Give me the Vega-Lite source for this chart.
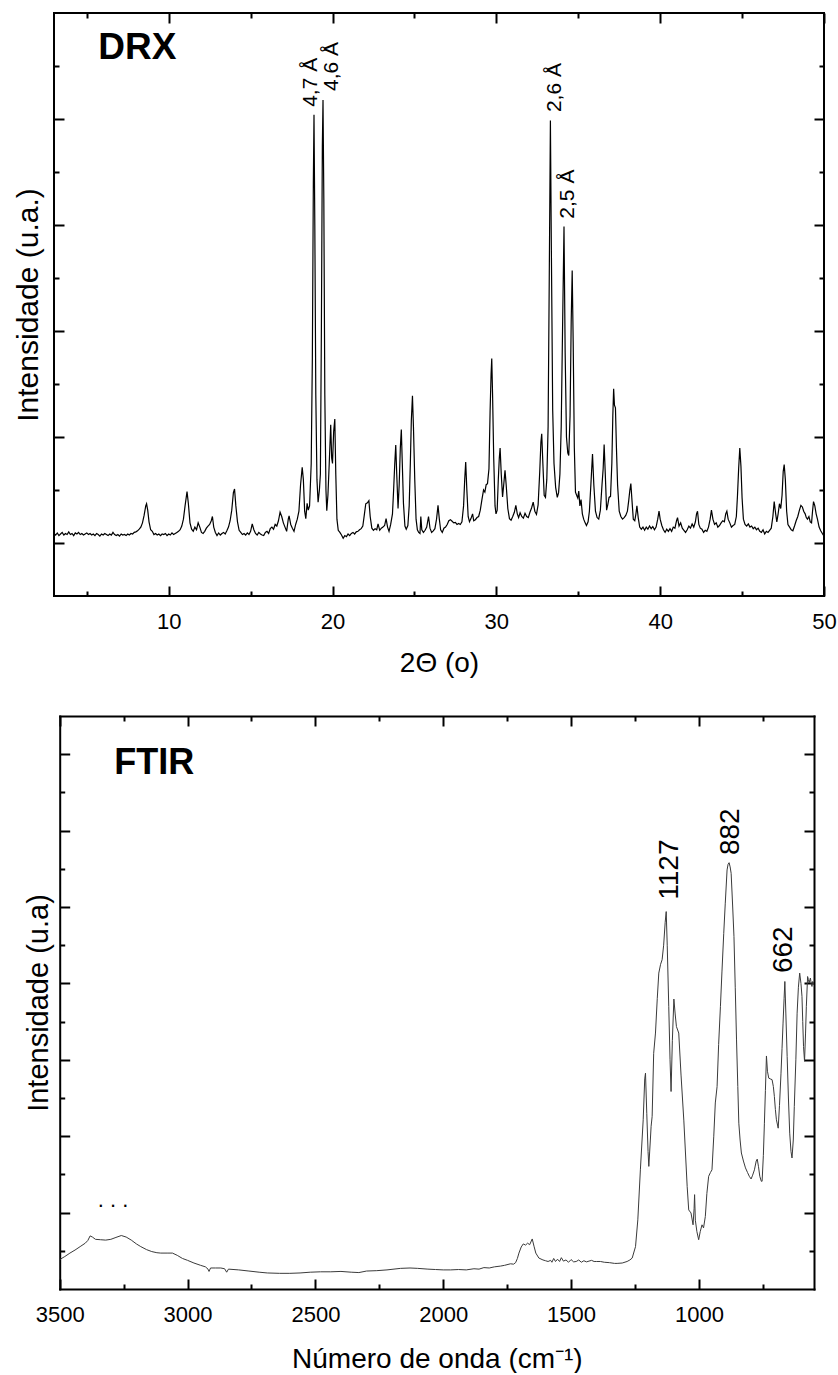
{
"$schema":"https://vega.github.io/schema/vega-lite/v6.json",
"padding":{"left":12,"top":11,"right":0,"bottom":0},
"spacing":37,
"config":{"view":{"stroke":"black","strokeWidth":2},"font":"Liberation Sans","axis":{"domain":false,"grid":false,"tickColor":"black","tickWidth":2,"labelColor":"black","titleColor":"black","labelFont":"Liberation Sans","titleFont":"Liberation Sans","titleFontWeight":"normal","labelOverlap":false,"labelFlush":false,"domainColor":"black","domainWidth":2,"domainCap":"square"}},
"vconcat":[
{
"width":770,"height":583,
"resolve":{"axis":{"x":"independent","y":"independent"}},
"layer":[
{
"data":{"values":[
{"x":3.0,"y":0.18},{"x":3.1,"y":0.15},{"x":3.2,"y":0.19},{"x":3.3,"y":0.14},{"x":3.4,"y":0.17},{"x":3.5,"y":0.2},{"x":3.6,"y":0.15},{"x":3.7,"y":0.18},{"x":3.8,"y":0.16},{"x":3.9,"y":0.21},
{"x":4.0,"y":0.16},{"x":4.1,"y":0.18},{"x":4.2,"y":0.14},{"x":4.3,"y":0.19},{"x":4.4,"y":0.17},{"x":4.5,"y":0.2},{"x":4.6,"y":0.16},{"x":4.7,"y":0.18},{"x":4.8,"y":0.15},{"x":4.9,"y":0.17},
{"x":5.0,"y":0.19},{"x":5.1,"y":0.16},{"x":5.2,"y":0.18},{"x":5.3,"y":0.15},{"x":5.4,"y":0.17},{"x":5.5,"y":0.14},{"x":5.6,"y":0.18},{"x":5.7,"y":0.16},{"x":5.8,"y":0.13},{"x":5.9,"y":0.17},
{"x":6.0,"y":0.15},{"x":6.1,"y":0.18},{"x":6.2,"y":0.16},{"x":6.3,"y":0.14},{"x":6.4,"y":0.17},{"x":6.5,"y":0.15},{"x":6.6,"y":0.2},{"x":6.7,"y":0.16},{"x":6.8,"y":0.14},{"x":6.9,"y":0.16},
{"x":7.0,"y":0.13},{"x":7.1,"y":0.17},{"x":7.2,"y":0.15},{"x":7.3,"y":0.16},{"x":7.4,"y":0.14},{"x":7.5,"y":0.17},{"x":7.6,"y":0.15},{"x":7.7,"y":0.18},{"x":7.8,"y":0.17},{"x":7.9,"y":0.2},
{"x":8.0,"y":0.21},{"x":8.1,"y":0.23},{"x":8.2,"y":0.26},{"x":8.3,"y":0.3},{"x":8.4,"y":0.38},{"x":8.5,"y":0.52},{"x":8.6,"y":0.7},{"x":8.65,"y":0.74},{"x":8.72,"y":0.62},{"x":8.8,"y":0.4},
{"x":8.9,"y":0.25},{"x":9.0,"y":0.22},{"x":9.1,"y":0.16},{"x":9.2,"y":0.18},{"x":9.3,"y":0.15},{"x":9.4,"y":0.17},{"x":9.5,"y":0.14},{"x":9.6,"y":0.17},{"x":9.7,"y":0.16},{"x":9.8,"y":0.18},
{"x":9.9,"y":0.14},{"x":10.0,"y":0.17},{"x":10.1,"y":0.15},{"x":10.2,"y":0.19},{"x":10.3,"y":0.16},{"x":10.4,"y":0.18},{"x":10.5,"y":0.2},{"x":10.6,"y":0.22},{"x":10.7,"y":0.25},{"x":10.8,"y":0.32},
{"x":10.9,"y":0.45},{"x":11.0,"y":0.7},{"x":11.12,"y":0.97},{"x":11.2,"y":0.75},{"x":11.3,"y":0.38},{"x":11.4,"y":0.26},{"x":11.5,"y":0.22},{"x":11.6,"y":0.3},{"x":11.7,"y":0.25},{"x":11.8,"y":0.38},
{"x":11.9,"y":0.3},{"x":12.0,"y":0.2},{"x":12.1,"y":0.18},{"x":12.2,"y":0.22},{"x":12.3,"y":0.28},{"x":12.4,"y":0.32},{"x":12.5,"y":0.35},{"x":12.6,"y":0.42},{"x":12.67,"y":0.5},{"x":12.75,"y":0.3},
{"x":12.85,"y":0.2},{"x":12.95,"y":0.14},{"x":13.05,"y":0.19},{"x":13.15,"y":0.15},{"x":13.25,"y":0.18},{"x":13.35,"y":0.2},{"x":13.45,"y":0.17},{"x":13.55,"y":0.23},{"x":13.65,"y":0.3},{"x":13.75,"y":0.42},
{"x":13.85,"y":0.62},{"x":13.95,"y":0.95},{"x":14.02,"y":1.02},{"x":14.1,"y":0.7},{"x":14.2,"y":0.4},{"x":14.3,"y":0.24},{"x":14.4,"y":0.2},{"x":14.5,"y":0.16},{"x":14.6,"y":0.18},{"x":14.7,"y":0.15},
{"x":14.8,"y":0.19},{"x":14.9,"y":0.16},{"x":15.0,"y":0.22},{"x":15.1,"y":0.36},{"x":15.2,"y":0.25},{"x":15.3,"y":0.18},{"x":15.4,"y":0.15},{"x":15.5,"y":0.2},{"x":15.6,"y":0.17},{"x":15.7,"y":0.15},
{"x":15.8,"y":0.14},{"x":15.9,"y":0.2},{"x":16.0,"y":0.22},{"x":16.1,"y":0.18},{"x":16.2,"y":0.27},{"x":16.3,"y":0.3},{"x":16.4,"y":0.26},{"x":16.5,"y":0.35},{"x":16.6,"y":0.32},{"x":16.7,"y":0.42},
{"x":16.8,"y":0.58},{"x":16.9,"y":0.5},{"x":17.0,"y":0.38},{"x":17.1,"y":0.3},{"x":17.2,"y":0.22},{"x":17.3,"y":0.45},{"x":17.35,"y":0.51},{"x":17.45,"y":0.35},{"x":17.55,"y":0.28},{"x":17.65,"y":0.22},
{"x":17.75,"y":0.35},{"x":17.85,"y":0.45},{"x":17.95,"y":0.6},{"x":18.05,"y":1.1},{"x":18.15,"y":1.43},{"x":18.22,"y":1.2},{"x":18.3,"y":0.6},{"x":18.37,"y":0.46},{"x":18.45,"y":0.75},{"x":18.52,"y":0.62},
{"x":18.6,"y":0.7},{"x":18.7,"y":1.5},{"x":18.77,"y":3.5},{"x":18.83,"y":6.8},{"x":18.87,"y":8.08},{"x":18.92,"y":6.0},{"x":18.98,"y":2.8},{"x":19.05,"y":1.2},{"x":19.12,"y":0.77},{"x":19.2,"y":1.0},
{"x":19.26,"y":1.3},{"x":19.32,"y":4.0},{"x":19.38,"y":7.5},{"x":19.42,"y":8.36},{"x":19.47,"y":6.5},{"x":19.53,"y":2.8},{"x":19.6,"y":1.0},{"x":19.65,"y":0.61},{"x":19.72,"y":0.9},{"x":19.8,"y":1.5},
{"x":19.89,"y":2.23},{"x":19.95,"y":1.6},{"x":20.0,"y":1.5},{"x":20.07,"y":2.1},{"x":20.14,"y":2.34},{"x":20.2,"y":1.3},{"x":20.27,"y":0.45},{"x":20.35,"y":0.24},{"x":20.45,"y":0.2},{"x":20.55,"y":0.15},
{"x":20.65,"y":0.09},{"x":20.75,"y":0.14},{"x":20.85,"y":0.12},{"x":20.95,"y":0.17},{"x":21.05,"y":0.14},{"x":21.15,"y":0.18},{"x":21.25,"y":0.2},{"x":21.35,"y":0.17},{"x":21.45,"y":0.21},{"x":21.55,"y":0.22},
{"x":21.65,"y":0.25},{"x":21.75,"y":0.27},{"x":21.85,"y":0.32},{"x":21.95,"y":0.55},{"x":22.03,"y":0.74},{"x":22.13,"y":0.76},{"x":22.22,"y":0.8},{"x":22.3,"y":0.5},{"x":22.4,"y":0.28},{"x":22.5,"y":0.24},
{"x":22.6,"y":0.27},{"x":22.7,"y":0.25},{"x":22.78,"y":0.36},{"x":22.88,"y":0.24},{"x":22.98,"y":0.28},{"x":23.08,"y":0.3},{"x":23.18,"y":0.33},{"x":23.27,"y":0.46},{"x":23.36,"y":0.3},{"x":23.45,"y":0.22},
{"x":23.55,"y":0.35},{"x":23.66,"y":0.55},{"x":23.73,"y":1.0},{"x":23.8,"y":1.5},{"x":23.86,"y":1.85},{"x":23.92,"y":1.3},{"x":24.0,"y":0.65},{"x":24.07,"y":1.1},{"x":24.14,"y":1.8},{"x":24.2,"y":2.14},
{"x":24.26,"y":1.5},{"x":24.33,"y":0.75},{"x":24.42,"y":0.32},{"x":24.5,"y":0.26},{"x":24.6,"y":0.33},{"x":24.68,"y":0.7},{"x":24.75,"y":1.5},{"x":24.81,"y":2.3},{"x":24.88,"y":2.78},{"x":24.94,"y":2.2},
{"x":25.02,"y":1.2},{"x":25.1,"y":0.45},{"x":25.18,"y":0.25},{"x":25.26,"y":0.2},{"x":25.34,"y":0.18},{"x":25.39,"y":0.5},{"x":25.45,"y":0.25},{"x":25.55,"y":0.2},{"x":25.65,"y":0.24},{"x":25.75,"y":0.3},
{"x":25.86,"y":0.5},{"x":25.95,"y":0.28},{"x":26.05,"y":0.2},{"x":26.15,"y":0.23},{"x":26.25,"y":0.27},{"x":26.35,"y":0.45},{"x":26.44,"y":0.71},{"x":26.52,"y":0.45},{"x":26.6,"y":0.25},{"x":26.7,"y":0.2},
{"x":26.8,"y":0.28},{"x":26.9,"y":0.3},{"x":27.0,"y":0.35},{"x":27.1,"y":0.42},{"x":27.2,"y":0.44},{"x":27.3,"y":0.41},{"x":27.4,"y":0.38},{"x":27.5,"y":0.39},{"x":27.6,"y":0.35},{"x":27.7,"y":0.37},
{"x":27.8,"y":0.35},{"x":27.9,"y":0.4},{"x":28.0,"y":0.7},{"x":28.07,"y":1.2},{"x":28.13,"y":1.53},{"x":28.2,"y":1.0},{"x":28.28,"y":0.5},{"x":28.36,"y":0.4},{"x":28.45,"y":0.46},{"x":28.55,"y":0.55},
{"x":28.62,"y":0.42},{"x":28.72,"y":0.44},{"x":28.82,"y":0.48},{"x":28.92,"y":0.5},{"x":29.02,"y":0.62},{"x":29.12,"y":0.82},{"x":29.22,"y":1.0},{"x":29.3,"y":0.96},{"x":29.38,"y":1.1},{"x":29.46,"y":1.12},
{"x":29.55,"y":1.4},{"x":29.62,"y":2.5},{"x":29.68,"y":3.2},{"x":29.72,"y":3.48},{"x":29.77,"y":2.8},{"x":29.84,"y":1.6},{"x":29.92,"y":0.7},{"x":29.98,"y":0.55},{"x":30.05,"y":0.62},{"x":30.12,"y":1.2},
{"x":30.18,"y":1.6},{"x":30.23,"y":1.79},{"x":30.3,"y":1.3},{"x":30.38,"y":0.87},{"x":30.45,"y":1.1},{"x":30.53,"y":1.37},{"x":30.6,"y":1.1},{"x":30.7,"y":0.65},{"x":30.8,"y":0.46},{"x":30.9,"y":0.43},
{"x":31.0,"y":0.5},{"x":31.1,"y":0.58},{"x":31.19,"y":0.71},{"x":31.28,"y":0.55},{"x":31.36,"y":0.48},{"x":31.45,"y":0.57},{"x":31.55,"y":0.5},{"x":31.65,"y":0.47},{"x":31.75,"y":0.56},{"x":31.85,"y":0.5},
{"x":31.95,"y":0.48},{"x":32.05,"y":0.58},{"x":32.15,"y":0.66},{"x":32.25,"y":0.77},{"x":32.35,"y":0.6},{"x":32.45,"y":0.54},{"x":32.55,"y":0.72},{"x":32.65,"y":1.35},{"x":32.72,"y":1.9},{"x":32.77,"y":2.06},
{"x":32.84,"y":1.5},{"x":32.92,"y":0.9},{"x":33.0,"y":0.86},{"x":33.08,"y":1.2},{"x":33.16,"y":2.2},{"x":33.23,"y":5.0},{"x":33.3,"y":7.97},{"x":33.36,"y":5.5},{"x":33.44,"y":2.5},{"x":33.52,"y":1.5},
{"x":33.62,"y":1.05},{"x":33.72,"y":0.86},{"x":33.8,"y":0.95},{"x":33.88,"y":1.3},{"x":33.96,"y":2.2},{"x":34.04,"y":4.0},{"x":34.13,"y":5.97},{"x":34.2,"y":3.6},{"x":34.28,"y":2.0},{"x":34.36,"y":1.7},
{"x":34.42,"y":1.65},{"x":34.5,"y":2.4},{"x":34.57,"y":4.2},{"x":34.63,"y":5.14},{"x":34.69,"y":3.8},{"x":34.76,"y":1.8},{"x":34.83,"y":0.96},{"x":34.9,"y":0.9},{"x":34.97,"y":0.85},{"x":35.03,"y":0.98},
{"x":35.1,"y":0.7},{"x":35.17,"y":0.82},{"x":35.25,"y":0.55},{"x":35.33,"y":0.45},{"x":35.42,"y":0.38},{"x":35.5,"y":0.33},{"x":35.6,"y":0.4},{"x":35.68,"y":0.6},{"x":35.77,"y":1.1},{"x":35.87,"y":1.68},
{"x":35.95,"y":1.1},{"x":36.05,"y":0.6},{"x":36.15,"y":0.48},{"x":36.25,"y":0.45},{"x":36.35,"y":0.62},{"x":36.45,"y":1.1},{"x":36.52,"y":1.4},{"x":36.58,"y":1.86},{"x":36.65,"y":1.3},{"x":36.73,"y":0.62},
{"x":36.8,"y":0.72},{"x":36.88,"y":0.86},{"x":36.97,"y":0.88},{"x":37.05,"y":1.5},{"x":37.11,"y":2.4},{"x":37.16,"y":2.91},{"x":37.21,"y":2.6},{"x":37.27,"y":2.55},{"x":37.33,"y":1.8},{"x":37.4,"y":1.1},
{"x":37.5,"y":0.6},{"x":37.6,"y":0.5},{"x":37.7,"y":0.45},{"x":37.8,"y":0.48},{"x":37.9,"y":0.52},{"x":38.0,"y":0.6},{"x":38.08,"y":0.8},{"x":38.15,"y":1.0},{"x":38.21,"y":1.12},{"x":38.28,"y":0.8},
{"x":38.36,"y":0.45},{"x":38.45,"y":0.42},{"x":38.52,"y":0.55},{"x":38.58,"y":0.7},{"x":38.66,"y":0.48},{"x":38.75,"y":0.3},{"x":38.85,"y":0.26},{"x":38.95,"y":0.3},{"x":39.05,"y":0.24},{"x":39.15,"y":0.3},
{"x":39.25,"y":0.26},{"x":39.35,"y":0.32},{"x":39.45,"y":0.27},{"x":39.55,"y":0.31},{"x":39.65,"y":0.25},{"x":39.75,"y":0.3},{"x":39.85,"y":0.45},{"x":39.93,"y":0.6},{"x":40.0,"y":0.45},{"x":40.1,"y":0.33},
{"x":40.2,"y":0.25},{"x":40.3,"y":0.2},{"x":40.4,"y":0.26},{"x":40.5,"y":0.22},{"x":40.6,"y":0.27},{"x":40.7,"y":0.22},{"x":40.8,"y":0.3},{"x":40.9,"y":0.28},{"x":41.0,"y":0.42},{"x":41.06,"y":0.48},
{"x":41.15,"y":0.32},{"x":41.25,"y":0.38},{"x":41.35,"y":0.28},{"x":41.45,"y":0.24},{"x":41.55,"y":0.2},{"x":41.65,"y":0.25},{"x":41.75,"y":0.32},{"x":41.85,"y":0.28},{"x":41.95,"y":0.36},{"x":42.05,"y":0.3},
{"x":42.15,"y":0.4},{"x":42.22,"y":0.55},{"x":42.28,"y":0.6},{"x":42.36,"y":0.35},{"x":42.45,"y":0.28},{"x":42.55,"y":0.26},{"x":42.65,"y":0.2},{"x":42.75,"y":0.24},{"x":42.85,"y":0.22},{"x":42.95,"y":0.3},
{"x":43.05,"y":0.45},{"x":43.13,"y":0.62},{"x":43.22,"y":0.45},{"x":43.32,"y":0.35},{"x":43.42,"y":0.38},{"x":43.52,"y":0.3},{"x":43.62,"y":0.33},{"x":43.72,"y":0.38},{"x":43.82,"y":0.42},{"x":43.92,"y":0.4},
{"x":44.0,"y":0.55},{"x":44.07,"y":0.6},{"x":44.15,"y":0.45},{"x":44.25,"y":0.38},{"x":44.35,"y":0.3},{"x":44.45,"y":0.33},{"x":44.55,"y":0.35},{"x":44.65,"y":0.5},{"x":44.72,"y":0.9},{"x":44.79,"y":1.4},
{"x":44.86,"y":1.79},{"x":44.93,"y":1.45},{"x":45.0,"y":0.85},{"x":45.08,"y":0.45},{"x":45.18,"y":0.35},{"x":45.28,"y":0.32},{"x":45.38,"y":0.36},{"x":45.48,"y":0.3},{"x":45.58,"y":0.32},{"x":45.68,"y":0.27},
{"x":45.78,"y":0.3},{"x":45.88,"y":0.25},{"x":45.98,"y":0.28},{"x":46.08,"y":0.22},{"x":46.18,"y":0.2},{"x":46.28,"y":0.25},{"x":46.38,"y":0.17},{"x":46.48,"y":0.22},{"x":46.58,"y":0.2},{"x":46.68,"y":0.24},
{"x":46.78,"y":0.28},{"x":46.88,"y":0.5},{"x":46.96,"y":0.78},{"x":47.05,"y":0.55},{"x":47.12,"y":0.4},{"x":47.2,"y":0.55},{"x":47.28,"y":0.74},{"x":47.36,"y":0.65},{"x":47.44,"y":0.9},{"x":47.51,"y":1.35},
{"x":47.57,"y":1.48},{"x":47.64,"y":1.2},{"x":47.72,"y":0.6},{"x":47.8,"y":0.35},{"x":47.9,"y":0.3},{"x":48.0,"y":0.25},{"x":48.1,"y":0.23},{"x":48.2,"y":0.32},{"x":48.3,"y":0.42},{"x":48.4,"y":0.5},
{"x":48.5,"y":0.62},{"x":48.59,"y":0.71},{"x":48.68,"y":0.68},{"x":48.76,"y":0.6},{"x":48.85,"y":0.55},{"x":48.92,"y":0.48},{"x":48.99,"y":0.45},{"x":49.08,"y":0.5},{"x":49.16,"y":0.4},{"x":49.24,"y":0.38},
{"x":49.3,"y":0.6},{"x":49.36,"y":0.78},{"x":49.44,"y":0.7},{"x":49.52,"y":0.55},{"x":49.6,"y":0.45},{"x":49.7,"y":0.3},{"x":49.8,"y":0.23},{"x":49.9,"y":0.18},{"x":50.0,"y":0.13}
]},
"mark":{"type":"line","color":"black","strokeWidth":1.2,"clip":true},
"encoding":{
"x":{"field":"x","type":"quantitative","scale":{"domain":[3,50],"nice":false,"zero":false},
"axis":{"orient":"bottom","values":[5,10,15,20,25,30,35,40,45,50],"tickSize":{"condition":{"test":"datum.value % 10 === 0","value":-10},"value":-5},"labelExpr":"datum.value % 10 === 0 ? datum.label : ''","labelFontSize":22,"labelPadding":25,"title":"2Θ (o)","titleFontSize":28,"titlePadding":12}},
"y":{"field":"y","type":"quantitative","scale":{"domain":[-1,10],"nice":false,"zero":false},
"axis":{"orient":"left","values":[0,1,2,3,4,5,6,7,8,9],"tickSize":{"condition":{"test":"datum.value % 2 === 0","value":-10},"value":-5},"labels":false,"title":"Intensidade (u.a.)","titleFontSize":30,"titlePadding":9.5}}
}
},
{
"data":{"values":[{"x":18.70,"y":8.23,"label":"4,7 Å"},{"x":19.95,"y":8.53,"label":"4,6 Å"},{"x":33.57,"y":8.13,"label":"2,6 Å"},{"x":34.39,"y":6.12,"label":"2,5 Å"}]},
"mark":{"type":"text","angle":270,"align":"left","baseline":"middle","fontSize":21,"color":"black"},
"encoding":{
"x":{"field":"x","type":"quantitative","axis":null},
"y":{"field":"y","type":"quantitative","axis":null},
"text":{"field":"label"}
}
},
{
"data":{"values":[{"x":5.7,"y":9.13,"label":"DRX"}]},
"mark":{"type":"text","align":"left","baseline":"alphabetic","fontSize":37,"fontWeight":"bold","color":"black"},
"encoding":{
"x":{"field":"x","type":"quantitative","axis":{"orient":"top","values":[5,10,15,20,25,30,35,40,45,50],"tickSize":{"condition":{"test":"datum.value % 10 === 0","value":-10},"value":-5},"labels":false,"title":null}},
"y":{"field":"y","type":"quantitative","axis":{"orient":"right","values":[0,1,2,3,4,5,6,7,8,9],"tickSize":{"condition":{"test":"datum.value % 2 === 0","value":-10},"value":-5},"labels":false,"title":null}},
"text":{"field":"label"}
}
}
]
},
{
"width":760,"height":573,
"view":{"stroke":null},
"resolve":{"axis":{"x":"independent","y":"independent"}},
"layer":[
{
"data":{"values":[
{"x":3500,"y":0.77},{"x":3480,"y":0.85},{"x":3460,"y":0.94},{"x":3440,"y":1.02},{"x":3420,"y":1.11},{"x":3400,"y":1.2},{"x":3390,"y":1.27},{"x":3381,"y":1.39},{"x":3372,"y":1.36},{"x":3360,"y":1.3},
{"x":3340,"y":1.29},{"x":3320,"y":1.28},{"x":3300,"y":1.3},{"x":3280,"y":1.35},{"x":3259,"y":1.4},{"x":3240,"y":1.36},{"x":3220,"y":1.28},{"x":3200,"y":1.18},{"x":3183,"y":1.11},{"x":3160,"y":1.03},
{"x":3140,"y":0.98},{"x":3120,"y":0.95},{"x":3105,"y":0.94},{"x":3080,"y":0.94},{"x":3059,"y":0.94},{"x":3040,"y":0.88},{"x":3020,"y":0.8},{"x":3000,"y":0.75},{"x":2975,"y":0.68},{"x":2949,"y":0.62},
{"x":2930,"y":0.58},{"x":2920,"y":0.52},{"x":2916,"y":0.46},{"x":2910,"y":0.55},{"x":2890,"y":0.55},{"x":2870,"y":0.55},{"x":2855,"y":0.53},{"x":2847,"y":0.44},{"x":2840,"y":0.52},{"x":2800,"y":0.5},
{"x":2760,"y":0.47},{"x":2720,"y":0.44},{"x":2688,"y":0.42},{"x":2640,"y":0.41},{"x":2600,"y":0.41},{"x":2560,"y":0.42},{"x":2520,"y":0.44},{"x":2480,"y":0.45},{"x":2440,"y":0.45},{"x":2400,"y":0.46},
{"x":2360,"y":0.44},{"x":2330,"y":0.43},{"x":2300,"y":0.47},{"x":2260,"y":0.48},{"x":2220,"y":0.5},{"x":2167,"y":0.54},{"x":2130,"y":0.55},{"x":2100,"y":0.54},{"x":2060,"y":0.52},{"x":2030,"y":0.51},
{"x":2000,"y":0.5},{"x":1971,"y":0.5},{"x":1940,"y":0.51},{"x":1910,"y":0.5},{"x":1880,"y":0.53},{"x":1860,"y":0.52},{"x":1841,"y":0.56},{"x":1820,"y":0.55},{"x":1800,"y":0.58},{"x":1776,"y":0.6},
{"x":1760,"y":0.62},{"x":1737,"y":0.66},{"x":1725,"y":0.65},{"x":1717,"y":0.69},{"x":1710,"y":0.8},{"x":1704,"y":0.94},{"x":1695,"y":1.1},{"x":1687,"y":1.18},{"x":1678,"y":1.15},{"x":1670,"y":1.2},
{"x":1662,"y":1.16},{"x":1652,"y":1.31},{"x":1645,"y":1.12},{"x":1638,"y":0.94},{"x":1626,"y":0.81},{"x":1610,"y":0.76},{"x":1600,"y":0.74},{"x":1590,"y":0.72},{"x":1580,"y":0.75},{"x":1575,"y":0.7},
{"x":1568,"y":0.8},{"x":1561,"y":0.72},{"x":1553,"y":0.78},{"x":1545,"y":0.72},{"x":1538,"y":0.82},{"x":1530,"y":0.73},{"x":1520,"y":0.76},{"x":1510,"y":0.7},{"x":1500,"y":0.77},{"x":1490,"y":0.71},
{"x":1480,"y":0.72},{"x":1470,"y":0.76},{"x":1460,"y":0.7},{"x":1450,"y":0.74},{"x":1440,"y":0.71},{"x":1430,"y":0.73},{"x":1420,"y":0.75},{"x":1410,"y":0.72},{"x":1400,"y":0.72},{"x":1385,"y":0.72},
{"x":1370,"y":0.7},{"x":1350,"y":0.69},{"x":1330,"y":0.67},{"x":1320,"y":0.67},{"x":1300,"y":0.68},{"x":1281,"y":0.72},{"x":1270,"y":0.76},{"x":1261,"y":0.81},{"x":1248,"y":1.11},{"x":1239,"y":1.81},
{"x":1229,"y":3.12},{"x":1218,"y":4.43},{"x":1212,"y":5.5},{"x":1209,"y":5.65},{"x":1204,"y":4.6},{"x":1199,"y":3.6},{"x":1196,"y":3.21},{"x":1190,"y":3.9},{"x":1187,"y":4.26},{"x":1183,"y":4.52},
{"x":1177,"y":6.17},{"x":1170,"y":6.7},{"x":1163,"y":7.6},{"x":1157,"y":8.27},{"x":1150,"y":8.5},{"x":1144,"y":8.62},{"x":1138,"y":9.0},{"x":1132,"y":9.6},{"x":1128,"y":9.88},{"x":1124,"y":9.0},
{"x":1118,"y":7.39},{"x":1113,"y":6.0},{"x":1109,"y":5.17},{"x":1104,"y":6.5},{"x":1098,"y":7.59},{"x":1093,"y":7.2},{"x":1088,"y":6.87},{"x":1079,"y":6.7},{"x":1070,"y":5.6},{"x":1059,"y":4.4},
{"x":1046,"y":2.68},{"x":1040,"y":2.07},{"x":1031,"y":1.99},{"x":1023,"y":1.68},{"x":1019,"y":2.1},{"x":1017,"y":2.47},{"x":1014,"y":1.8},{"x":1008,"y":1.5},{"x":1001,"y":1.29},{"x":995,"y":1.5},
{"x":988,"y":1.68},{"x":982,"y":1.6},{"x":975,"y":1.9},{"x":969,"y":2.5},{"x":962,"y":2.95},{"x":955,"y":3.05},{"x":949,"y":3.12},{"x":942,"y":4.0},{"x":936,"y":4.87},{"x":929,"y":5.3},
{"x":923,"y":6.4},{"x":916,"y":7.39},{"x":910,"y":8.3},{"x":903,"y":9.31},{"x":897,"y":10.1},{"x":890,"y":10.97},{"x":886,"y":11.12},{"x":882,"y":11.16},{"x":878,"y":11.05},{"x":874,"y":10.88},
{"x":868,"y":10.0},{"x":863,"y":9.23},{"x":858,"y":7.9},{"x":853,"y":6.52},{"x":848,"y":5.3},{"x":844,"y":4.34},{"x":839,"y":3.9},{"x":834,"y":3.56},{"x":826,"y":3.35},{"x":818,"y":3.17},
{"x":810,"y":3.05},{"x":803,"y":2.95},{"x":796,"y":2.88},{"x":790,"y":2.98},{"x":783,"y":3.12},{"x":776,"y":3.35},{"x":772,"y":3.4},{"x":767,"y":3.2},{"x":762,"y":2.95},{"x":756,"y":2.82},
{"x":753,"y":2.82},{"x":748,"y":3.5},{"x":744,"y":4.34},{"x":740,"y":5.2},{"x":736,"y":6.1},{"x":732,"y":5.7},{"x":727,"y":5.52},{"x":721,"y":5.5},{"x":714,"y":5.48},{"x":709,"y":5.3},
{"x":705,"y":5.04},{"x":701,"y":4.7},{"x":697,"y":4.43},{"x":690,"y":4.21},{"x":685,"y":4.8},{"x":679,"y":5.65},{"x":675,"y":6.3},{"x":671,"y":6.96},{"x":667,"y":7.6},{"x":664,"y":8.05},
{"x":660,"y":7.2},{"x":655,"y":6.09},{"x":650,"y":5.0},{"x":645,"y":4.08},{"x":640,"y":3.6},{"x":636,"y":3.43},{"x":631,"y":3.9},{"x":627,"y":4.78},{"x":621,"y":6.0},{"x":616,"y":7.22},
{"x":611,"y":7.9},{"x":606,"y":8.27},{"x":601,"y":8.0},{"x":597,"y":7.66},{"x":594,"y":7.0},{"x":591,"y":6.35},{"x":587,"y":5.96},{"x":583,"y":6.7},{"x":580,"y":7.39},{"x":575,"y":8.18},
{"x":572,"y":8.1},{"x":569,"y":8.01},{"x":566,"y":8.1},{"x":564,"y":8.14},{"x":561,"y":8.0},{"x":558,"y":7.92},{"x":555,"y":8.05},{"x":552,"y":7.98},{"x":550,"y":8.0}
]},
"mark":{"type":"line","color":"#3a3a3a","strokeWidth":1,"clip":true},
"encoding":{
"x":{"field":"x","type":"quantitative","sort":null,"scale":{"domain":[550,3500],"reverse":true,"nice":false,"zero":false,"range":[5.7,760]},
"axis":{"orient":"bottom","domain":true,"values":[3500,3250,3000,2750,2500,2250,2000,1750,1500,1250,1000,750],"tickSize":{"condition":{"test":"datum.value % 500 === 0","value":-10},"value":-5},"labelExpr":"datum.value % 500 === 0 ? datum.label : ''","format":"d","labelFontSize":22,"labelPadding":25,"title":"Número de onda (cm⁻¹)","titleFontSize":28,"titlePadding":15}},
"y":{"field":"y","type":"quantitative","scale":{"domain":[0,15],"nice":false,"zero":false},
"axis":{"orient":"left","domain":true,"offset":-5.7,"values":[1,2,3,4,5,6,7,8,9,10,11,12,13,14],"tickSize":{"condition":{"test":"datum.value % 2 === 0","value":-10},"value":-5},"labels":false,"title":"Intensidade (u.a)","titleFontSize":29,"titlePadding":5}}
}
},
{
"data":{"values":[{"x":1115,"y":10.19,"label":"1127"},{"x":875,"y":11.36,"label":"882"},{"x":666,"y":8.27,"label":"662"}]},
"mark":{"type":"text","angle":270,"align":"left","baseline":"middle","fontSize":28,"color":"black"},
"encoding":{
"x":{"field":"x","type":"quantitative","axis":null},
"y":{"field":"y","type":"quantitative","axis":null},
"text":{"field":"label"}
}
},
{
"data":{"values":[{"x":3351,"y":2.15,"label":". . ."}]},
"mark":{"type":"text","align":"left","baseline":"alphabetic","fontSize":22,"color":"black"},
"encoding":{
"x":{"field":"x","type":"quantitative","axis":null},
"y":{"field":"y","type":"quantitative","axis":null},
"text":{"field":"label"}
}
},
{
"data":{"values":[{"x":3287,"y":13.48,"label":"FTIR"}]},
"mark":{"type":"text","align":"left","baseline":"alphabetic","fontSize":36,"fontWeight":"bold","color":"black"},
"encoding":{
"x":{"field":"x","type":"quantitative","axis":{"orient":"top","domain":true,"values":[3500,3250,3000,2750,2500,2250,2000,1750,1500,1250,1000,750],"tickSize":{"condition":{"test":"datum.value % 500 === 0","value":-10},"value":-5},"labels":false,"title":null}},
"y":{"field":"y","type":"quantitative","axis":{"orient":"right","domain":true,"values":[1,2,3,4,5,6,7,8,9,10,11,12,13,14],"tickSize":{"condition":{"test":"datum.value % 2 === 0","value":-10},"value":-5},"labels":false,"title":null}},
"text":{"field":"label"}
}
}
]
}
]
}
